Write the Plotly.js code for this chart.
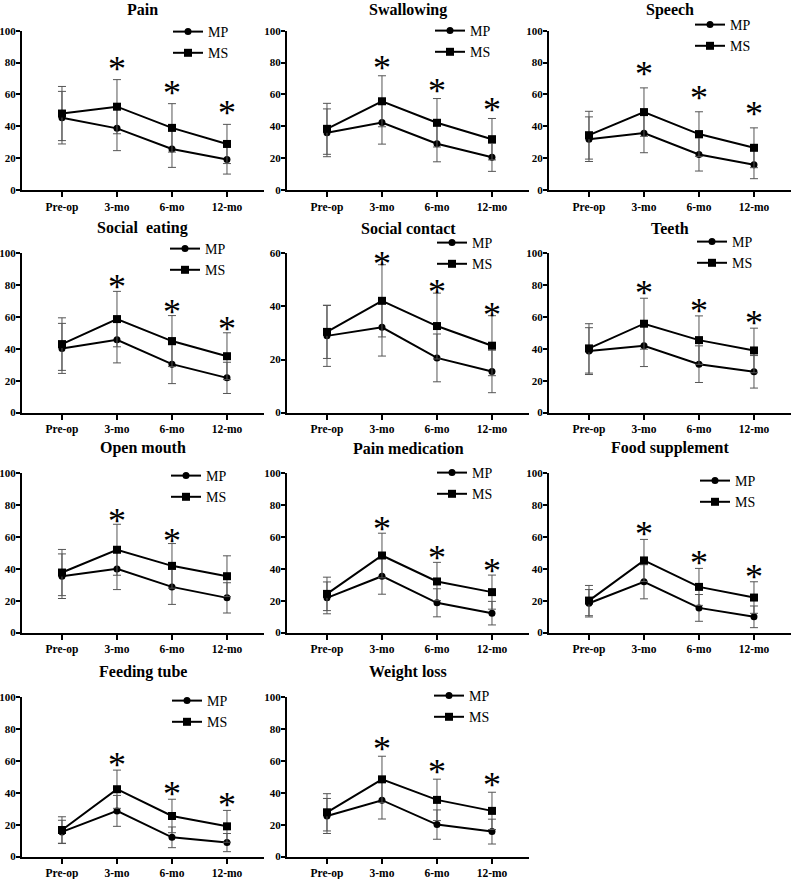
<!DOCTYPE html>
<html>
<head>
<meta charset="utf-8">
<script src="https://cdn.plot.ly/plotly-3.0.1.min.js"></script>
<style>
  html, body { margin: 0; padding: 0; background: #ffffff; }
  #chart { width: 791px; height: 879px; }
</style>
</head>
<body>
<div id="chart"></div>
<script>
// ---------------- DATA ----------------
var categories = ['Pre-op', '3-mo', '6-mo', '12-mo'];
var panelTitles = ['Pain', 'Swallowing', 'Speech', 'Social  eating', 'Social contact', 'Teeth',
                   'Open mouth', 'Pain medication', 'Food supplement', 'Feeding tube', 'Weight loss'];
var seriesNames = ['MP', 'MS'];

// MP group means and SD (one row per panel)
var mpMean = [
  [45.4, 38.7, 25.7, 19.2],
  [35.9, 42.4, 29.0, 20.5],
  [31.9, 35.7, 22.3, 15.9],
  [40.3, 45.7, 30.4, 21.8],
  [28.9, 32.1, 20.6, 15.5],
  [38.6, 41.9, 30.4, 25.6],
  [35.4, 40.0, 28.7, 21.8],
  [21.8, 35.4, 18.7, 12.2],
  [18.4, 31.9, 15.5, 9.9],
  [15.5, 28.7, 12.1, 8.8],
  [25.5, 35.4, 20.1, 15.7]
];
var mpSD = [
  [16.5, 14.0, 11.5, 9.2],
  [15.0, 13.6, 11.3, 8.8],
  [14.0, 12.3, 10.4, 8.8],
  [15.7, 14.5, 12.2, 9.8],
  [11.5, 10.8, 9.0, 8.0],
  [14.7, 13.0, 11.5, 10.2],
  [14.0, 13.0, 11.0, 9.5],
  [10.0, 11.3, 8.8, 7.4],
  [8.6, 10.7, 8.4, 6.8],
  [7.3, 9.7, 6.5, 5.7],
  [11.0, 11.8, 9.2, 7.8]
];
// MS group means and SD
var msMean = [
  [48.0, 52.3, 39.0, 28.9],
  [38.4, 55.7, 42.2, 31.9],
  [34.4, 48.9, 35.1, 26.5],
  [43.0, 58.7, 44.9, 35.4],
  [30.4, 42.1, 32.6, 25.2],
  [40.3, 55.8, 45.5, 39.0],
  [37.7, 52.0, 41.9, 35.4],
  [24.3, 48.4, 32.1, 25.4],
  [20.1, 45.3, 28.7, 22.0],
  [16.7, 42.3, 25.5, 19.0],
  [27.8, 48.5, 35.6, 28.7]
];
var msSD = [
  [17.0, 17.0, 15.2, 12.3],
  [16.0, 16.0, 15.2, 13.0],
  [15.0, 15.2, 14.0, 12.5],
  [16.5, 17.4, 16.0, 14.7],
  [10.0, 13.6, 12.4, 11.3],
  [15.5, 16.0, 15.2, 14.0],
  [14.5, 16.0, 14.0, 12.8],
  [10.5, 14.0, 12.0, 10.7],
  [9.5, 13.2, 11.6, 9.9],
  [8.3, 12.0, 10.5, 10.0],
  [11.7, 14.5, 13.0, 11.7]
];
// significance markers (asterisk) per time point
var significant = [
  [0, 1, 1, 1],
  [0, 1, 1, 1],
  [0, 1, 1, 1],
  [0, 1, 1, 1],
  [0, 1, 1, 1],
  [0, 1, 1, 1],
  [0, 1, 1, 0],
  [0, 1, 1, 1],
  [0, 1, 1, 1],
  [0, 1, 1, 1],
  [0, 1, 1, 1]
];
var yAxisMax = [100, 100, 100, 100, 60, 100, 100, 100, 100, 100, 100];

// ---------------- LAYOUT CONFIG ----------------
var W = 791, H = 879;
var colPx = [[22, 264], [287, 529], [549, 791]];
var rowTopPx = [30.7, 253.3, 473.3, 697.3];
var plotHpx = 159.3;
// legend MP marker centre (px) per panel
var legendPx = [
  [188, 33], [450, 32], [710, 26],
  [185, 250], [452, 244], [712, 243],
  [186, 477], [452, 474], [715, 482],
  [187, 702], [449, 697]
];
// asterisk gap above MS error cap (px) per panel
var starGap = [20, 17, 23, 13, 10, 14, 12, 13, 14, 14, 16];

var serif = '"Times New Roman", "Liberation Serif", Times, serif';
var data = [];
var layout = {
  width: W, height: H,
  margin: {l: 0, r: 0, t: 0, b: 0},
  paper_bgcolor: '#ffffff',
  plot_bgcolor: 'rgba(0,0,0,0)',
  showlegend: true,
  font: {family: serif, color: '#000'},
  annotations: []
};

for (var k = 0; k < panelTitles.length; k++) {
  var row = Math.floor(k / 3), col = k % 3;
  var sfx = k === 0 ? '' : String(k + 1);
  var xa = 'x' + sfx, ya = 'y' + sfx;
  var legName = 'legend' + sfx;
  var xd = [colPx[col][0] / W, colPx[col][1] / W];
  var topPx = rowTopPx[row], botPx = topPx + plotHpx;
  var yd = [1 - botPx / H, 1 - topPx / H];

  layout['xaxis' + sfx] = {
    domain: xd, anchor: ya, type: 'category', categoryarray: categories,
    range: [-0.727, 3.673], showline: true, linecolor: '#000', linewidth: 2,
    ticks: 'outside', ticklen: 5, tickwidth: 2, tickcolor: '#000',
    showgrid: false, zeroline: false, fixedrange: true,
    tickfont: {family: serif, size: 11.5, color: '#000', weight: 'bold'}
  };
  var ymax = yAxisMax[k];
  var tv = [];
  for (var t = 0; t <= ymax; t += 20) tv.push(t);
  layout['yaxis' + sfx] = {
    domain: yd, anchor: xa, range: [0, ymax], tickvals: tv,
    showline: true, linecolor: '#000', linewidth: 2,
    ticks: 'outside', ticklen: 4, tickwidth: 2, tickcolor: '#000',
    ticklabelstandoff: -2,
    showgrid: false, zeroline: false, fixedrange: true,
    tickfont: {family: serif, size: 11, color: '#000', weight: 'bold'}
  };

  var means = [mpMean[k], msMean[k]];
  var sds = [mpSD[k], msSD[k]];
  var symbols = ['circle', 'square'];
  var sizes = [7, 8];
  for (var s = 0; s < 2; s++) {
    data.push({
      type: 'scatter', mode: 'lines+markers',
      x: categories, y: means[s], xaxis: xa, yaxis: ya,
      name: seriesNames[s], legend: legName, legendgroup: 'g' + k + '_' + s,
      line: {color: '#000', width: 2},
      marker: {symbol: symbols[s], size: sizes[s], color: '#000'},
      error_y: {type: 'data', array: sds[s], visible: true, color: '#555', thickness: 1, width: 4},
      cliponaxis: false, hoverinfo: 'skip'
    });
  }

  var lp = legendPx[k];
  layout[legName] = {
    x: (lp[0] - 20) / W, y: 1 - (lp[1] - 17) / H,
    xanchor: 'left', yanchor: 'top',
    bgcolor: 'rgba(0,0,0,0)', borderwidth: 0,
    font: {family: serif, size: 14, color: '#000'},
    tracegroupgap: 0, itemclick: false, itemdoubleclick: false
  };

  // panel title (kept fully inside the page for the top row)
  var titleCenterPx = Math.max(topPx - 25, 10);
  layout.annotations.push({
    xref: 'paper', yref: 'paper',
    x: (xd[0] + xd[1]) / 2, y: 1 - titleCenterPx / H,
    xanchor: 'center', yanchor: 'middle', showarrow: false,
    text: panelTitles[k],
    font: {family: serif, size: 16, color: '#000', weight: 'bold'}
  });

  // asterisks
  for (var i = 0; i < categories.length; i++) {
    if (!significant[k][i]) continue;
    layout.annotations.push({
      xref: xa, yref: ya, x: categories[i], y: msMean[k][i] + msSD[k][i],
      xanchor: 'center', yanchor: 'middle', yshift: starGap[k] - 9,
      showarrow: false, text: '*',
      font: {family: serif, size: 36, color: '#000'}
    });
  }
}

Plotly.newPlot('chart', data, layout, {displayModeBar: false, staticPlot: true});
</script>
</body>
</html>
